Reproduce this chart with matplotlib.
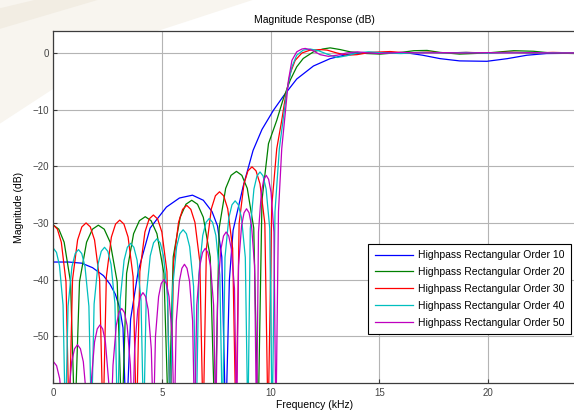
import matplotlib
matplotlib.use("Agg")
import matplotlib.pyplot as plt
from matplotlib.patches import Polygon

# frequency (kHz) and magnitude (dB), one pair per filter order
# (stopband lists are written one side lobe per line)
f_o10 = [0, 0.7, 1.3, 1.8, 2.3, 2.6, 2.85, 3.05, 3.2, 3.35,
         3.55, 3.9, 4.45, 5.2, 5.8, 6.4, 6.9, 7.3, 7.55, 7.75, 7.93,
         8.1, 8.27, 8.73, 9.19, 9.6, 10.13, 10.59, 11.2, 11.97, 12.74, 13.5, 14.43,
         15.05, 16.3, 17.0, 17.8, 18.7, 19.96, 20.9, 21.8, 22.7, 24.0]
m_o10 = [-36.9, -36.9, -37.1, -37.9, -39.3, -40.8, -42.6, -45.0, -48.5, -66,
         -47.0, -38.5, -30.9, -27.2, -25.6, -25.1, -26.0, -28.0, -30.5, -36.0, -66,
         -40.0, -31.3, -23.6, -17.2, -13.5, -10.1, -7.6, -4.6, -2.3, -1.0, -0.3, 0.05,
         0.05, 0.0, -0.4, -1.0, -1.4, -1.47, -1.0, -0.4, -0.1, -0.05]

f_o20 = [0, 0.245, 0.49, 0.784, 0.98,
         1.197, 1.523, 1.794, 2.065, 2.336, 2.608, 2.933, 3.15,
         3.365, 3.688, 3.956, 4.225, 4.494, 4.763, 5.085, 5.3,
         5.513, 5.833, 6.099, 6.365, 6.631, 6.898, 7.217, 7.43,
         7.629, 7.928, 8.176, 8.425, 8.674, 8.923, 9.221, 9.42,
         9.6, 9.9, 10.28, 10.59, 10.9, 11.2, 11.5, 11.97, 12.4, 12.74, 13.2, 13.66,
         14.43, 15.05, 16.0, 16.6, 17.2, 17.8, 18.7, 19.96, 21.2, 22.1, 22.9, 24.0]
m_o20 = [-30.4, -31.1, -33.4, -40.4, -66,
         -40.4, -33.4, -31.1, -30.4, -31.1, -33.4, -40.4, -66,
         -38.9, -31.9, -29.6, -28.9, -29.6, -31.9, -38.9, -66,
         -36.0, -29.0, -26.7, -26.0, -26.7, -29.0, -36.0, -66,
         -30.9, -23.9, -21.6, -20.9, -21.6, -23.9, -30.9, -66,
         -26.0, -16.0, -11.9, -8.0, -4.8, -2.45, -0.97, 0.2, 0.7, 0.9, 0.6, 0.2,
         -0.1, -0.2, 0.1, 0.4, 0.45, 0.1, -0.2, 0.0, 0.4, 0.3, 0.0, -0.1]

f_o30 = [0, 0.18, 0.36, 0.576, 0.72,
         0.876, 1.11, 1.305, 1.5, 1.695, 1.89, 2.124, 2.28,
         2.434, 2.665, 2.858, 3.05, 3.243, 3.435, 3.666, 3.82,
         3.976, 4.21, 4.405, 4.6, 4.795, 4.99, 5.224, 5.38,
         5.531, 5.758, 5.946, 6.135, 6.324, 6.513, 6.739, 6.89,
         7.041, 7.268, 7.456, 7.645, 7.834, 8.023, 8.249, 8.4,
         8.548, 8.77, 8.955, 9.14, 9.325, 9.51, 9.732, 9.88,
         10.05, 10.28, 10.51, 10.67, 10.9, 11.13, 11.44, 11.82, 12.28, 12.6, 13.05,
         13.5, 13.97, 14.58, 15.5, 16.3, 17.2, 18.1, 19.0, 20.0, 21.0, 22.0, 23.0, 24.0]
m_o30 = [-30.4, -31.1, -33.4, -40.4, -66,
         -40.0, -33.0, -30.7, -30.0, -30.7, -33.0, -40.0, -66,
         -39.5, -32.5, -30.2, -29.5, -30.2, -32.5, -39.5, -66,
         -38.6, -31.6, -29.3, -28.6, -29.3, -31.6, -38.6, -66,
         -36.9, -29.9, -27.6, -26.9, -27.6, -29.9, -36.9, -66,
         -34.5, -27.5, -25.2, -24.5, -25.2, -27.5, -34.5, -66,
         -30.1, -23.1, -20.8, -20.1, -20.8, -23.1, -30.1, -66,
         -27.0, -16.9, -11.9, -8.0, -3.6, -1.3, 0.0, 0.5, 0.6, 0.5, 0.0,
         -0.4, -0.3, 0.1, 0.25, 0.0, 0.15, 0.0, 0.1, 0.0, 0.15, 0.0, 0.1, 0.0]

f_o40 = [0, 0.1375, 0.275, 0.44, 0.55,
         0.67, 0.85, 1.0, 1.15, 1.3, 1.45, 1.63, 1.75,
         1.87, 2.05, 2.2, 2.35, 2.5, 2.65, 2.83, 2.95,
         3.07, 3.25, 3.4, 3.55, 3.7, 3.85, 4.03, 4.15,
         4.272, 4.455, 4.608, 4.76, 4.913, 5.065, 5.248, 5.37,
         5.49, 5.67, 5.82, 5.97, 6.12, 6.27, 6.45, 6.57,
         6.691, 6.873, 7.024, 7.175, 7.326, 7.478, 7.659, 7.78,
         7.897, 8.073, 8.219, 8.365, 8.511, 8.658, 8.833, 8.95,
         9.062, 9.23, 9.37, 9.51, 9.65, 9.79, 9.958, 10.07,
         10.2, 10.4, 10.59, 10.75, 10.98, 11.2, 11.5, 11.82, 12.2, 12.6, 13.05, 13.5,
         13.97, 14.5, 15.2, 16.0, 17.0, 18.0, 19.0, 20.0, 21.0, 22.0, 23.0, 24.0]
m_o40 = [-34.5, -35.2, -37.5, -44.5, -66,
         -44.7, -37.7, -35.4, -34.7, -35.4, -37.7, -44.7, -66,
         -44.3, -37.3, -35.0, -34.3, -35.0, -37.3, -44.3, -66,
         -43.6, -36.6, -34.3, -33.6, -34.3, -36.6, -43.6, -66,
         -42.8, -35.8, -33.5, -32.8, -33.5, -35.8, -42.8, -66,
         -41.2, -34.2, -31.9, -31.2, -31.9, -34.2, -41.2, -66,
         -39.2, -32.2, -29.9, -29.2, -29.9, -32.2, -39.2, -66,
         -36.1, -29.1, -26.8, -26.1, -26.8, -29.1, -36.1, -66,
         -31.0, -24.0, -21.7, -21.0, -21.7, -24.0, -31.0, -66,
         -28.0, -16.9, -11.3, -6.6, -2.45, -0.4, 0.5, 0.7, 0.4, -0.2, -0.8, -0.5,
         0.0, 0.2, 0.0, -0.1, 0.1, 0.0, 0.1, -0.05, 0.1, 0.0, 0.05, 0.0]

f_o50 = [0, 0.1425, 0.285, 0.456, 0.57,
         0.677, 0.838, 0.971, 1.105, 1.239, 1.373, 1.533, 1.64,
         1.74, 1.89, 2.015, 2.14, 2.265, 2.39, 2.54, 2.64,
         2.74, 2.89, 3.015, 3.14, 3.265, 3.39, 3.54, 3.64,
         3.736, 3.88, 4.0, 4.12, 4.24, 4.36, 4.504, 4.6,
         4.696, 4.84, 4.96, 5.08, 5.2, 5.32, 5.464, 5.56,
         5.654, 5.795, 5.913, 6.03, 6.148, 6.265, 6.406, 6.5,
         6.597, 6.743, 6.864, 6.985, 7.106, 7.228, 7.373, 7.47,
         7.566, 7.71, 7.83, 7.95, 8.07, 8.19, 8.334, 8.43,
         8.522, 8.66, 8.775, 8.89, 9.005, 9.12, 9.258, 9.35,
         9.439, 9.573, 9.684, 9.795, 9.906, 10.018, 10.151, 10.24,
         10.36, 10.51, 10.67, 10.82, 10.98, 11.2, 11.44, 11.59, 11.9, 12.28, 12.66, 13.05,
         13.5, 14.0, 14.5, 15.0, 16.0, 17.0, 18.0, 19.0, 20.0, 21.0, 22.0, 23.0, 24.0]
m_o50 = [-54.5, -55.2, -57.5, -64.5, -66,
         -61.5, -54.5, -52.2, -51.5, -52.2, -54.5, -61.5, -66,
         -58.0, -51.0, -48.7, -48.0, -48.7, -51.0, -58.0, -66,
         -55.1, -48.1, -45.8, -45.1, -45.8, -48.1, -55.1, -66,
         -52.3, -45.3, -43.0, -42.3, -43.0, -45.3, -52.3, -66,
         -50.0, -43.0, -40.7, -40.0, -40.7, -43.0, -50.0, -66,
         -47.3, -40.3, -38.0, -37.3, -38.0, -40.3, -47.3, -66,
         -44.5, -37.5, -35.2, -34.5, -35.2, -37.5, -44.5, -66,
         -41.6, -34.6, -32.3, -31.6, -32.3, -34.6, -41.6, -66,
         -37.5, -30.5, -28.2, -27.5, -28.2, -30.5, -37.5, -66,
         -31.6, -24.6, -22.3, -21.6, -22.3, -24.6, -31.6, -66,
         -28.0, -16.9, -10.7, -4.8, -1.3, 0.2, 0.7, 0.8, 0.5, -0.3, -0.6, -0.4,
         0.0, 0.2, 0.0, -0.1, 0.1, 0.0, 0.05, 0.0, 0.05, 0.0, 0.05, 0.0, 0.0]

labels = ["Highpass Rectangular Order 10", "Highpass Rectangular Order 20",
          "Highpass Rectangular Order 30", "Highpass Rectangular Order 40",
          "Highpass Rectangular Order 50"]
colors = ["#0000ff", "#008000", "#ff0000", "#00bfbf", "#bf00bf"]

plt.rcParams['font.family'] = ['Liberation Sans', 'DejaVu Sans']

fig = plt.figure(figsize=(5.74, 4.12), dpi=100)

# faint watermark in the top-left corner of the reference
fig.patches.append(Polygon([(0, 0.70), (0, 1), (0.44, 1), (0.22, 0.90)],
                           closed=True, transform=fig.transFigure, facecolor="#f8f5ef",
                           edgecolor="none", zorder=-5))
fig.patches.append(Polygon([(0.0, 0.93), (0.0, 0.98), (0.06, 1), (0.17, 1)],
                           closed=True, transform=fig.transFigure, facecolor="#f2ede3",
                           edgecolor="none", zorder=-4))

ax = fig.add_axes([0.0932, 0.0697, 0.908, 0.854])
ax.patch.set_facecolor("white")

series = [(f_o10, m_o10), (f_o20, m_o20), (f_o30, m_o30), (f_o40, m_o40), (f_o50, m_o50)]
for (f, m), lab, c in zip(series, labels, colors):
    ax.plot(f, m, color=c, lw=0.9, label=lab)

ax.set_xlim(0, 24)
ax.set_ylim(-58.3, 3.8)
ax.set_xticks([0, 5, 10, 15, 20])
ax.set_yticks([0, -10, -20, -30, -40, -50])
ax.grid(True, color="#b4b4b4", lw=0.8)
ax.set_axisbelow(True)
for s in ax.spines.values():
    s.set_color("#3c3c3c")
    s.set_linewidth(0.9)
ax.tick_params(direction="in", length=3, labelsize=7, colors="#3c3c3c", labelcolor="#444444")

ax.set_title("Magnitude Response (dB)", fontsize=7.5, pad=6)
ax.set_xlabel("Frequency (kHz)", fontsize=7.5, labelpad=1.5)
ax.set_ylabel("Magnitude (dB)", fontsize=7.5, labelpad=6)

leg = ax.legend(loc="upper left", bbox_to_anchor=(0.604, 0.396), fontsize=7.5,
                handlelength=3.65, handletextpad=0.5, labelspacing=0.66,
                borderpad=0.6, borderaxespad=0, fancybox=False, framealpha=1)
leg.get_frame().set_edgecolor("black")
leg.get_frame().set_linewidth(0.8)

fig.savefig("out.png", dpi=100)
